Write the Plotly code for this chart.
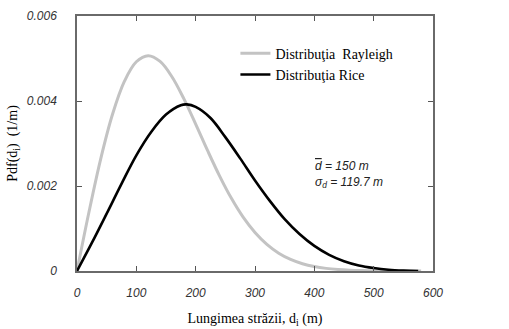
import plotly.graph_objects as go

# Distances (m) and pdf values
x_rayleigh = [0, 20, 40, 60, 80, 100, 120, 140, 160, 180, 200, 220, 240, 260, 280,
              300, 320, 340, 360, 380, 400, 420, 440, 460, 480, 500, 520, 540, 560, 580]
y_rayleigh = [0, 0.001377, 0.002640, 0.003693, 0.004466, 0.004923, 0.005067, 0.004931,
              0.004571, 0.004055, 0.003456, 0.002836, 0.002245, 0.001715, 0.001267,
              0.000906, 0.000627, 0.000420, 0.000273, 0.000172, 0.000105, 0.000062,
              0.000036, 0.000020, 0.000011, 0.000006, 0.000003, 0.000001, 0.0000005, 0]

x_rice = [0, 25, 50, 75, 100, 125, 150, 175, 185, 200, 225, 250, 275, 300, 325, 350,
          375, 400, 425, 450, 475, 500, 525, 550, 575]
y_rice = [0, 0.00066, 0.00135, 0.00205, 0.00272, 0.00327, 0.00368, 0.00390, 0.00392,
          0.00386, 0.00360, 0.00315, 0.00265, 0.00213, 0.00165, 0.00122, 0.00087,
          0.00059, 0.00038, 0.00023, 0.00013, 0.00007, 0.00003, 0.00001, 0]

x_ticks = [0, 100, 200, 300, 400, 500, 600]
y_ticks = [0, 0.002, 0.004, 0.006]
y_tick_labels = ["0", "0.002", "0.004", "0.006"]

names = ["Distribuţia  Rayleigh", "Distribuţia Rice"]

fig = go.Figure()
fig.add_trace(go.Scatter(x=x_rayleigh, y=y_rayleigh, mode="lines", name=names[0],
                         line=dict(color="#c3c3c3", width=3, shape="spline")))
fig.add_trace(go.Scatter(x=x_rice, y=y_rice, mode="lines", name=names[1],
                         line=dict(color="#000000", width=2.6, shape="spline")))

serif = "Liberation Serif, Times New Roman, serif"
tick_font = dict(family="Liberation Sans, Arial, sans-serif", size=12, color="#333333", style="italic")
axis_common = dict(showgrid=False, zeroline=False, showline=True, linecolor="#6a6a6a",
                   linewidth=1.5, mirror="ticks", ticks="inside", ticklen=5,
                   tickcolor="#555555", tickwidth=1.2, tickfont=tick_font, automargin=False)

fig.update_layout(
    width=509, height=329,
    margin=dict(l=77, r=76, t=16, b=58),
    paper_bgcolor="white", plot_bgcolor="white",
    showlegend=True,
    legend=dict(x=0.445, y=0.915, xanchor="left", yanchor="top",
                bgcolor="rgba(0,0,0,0)", itemwidth=30, tracegroupgap=0,
                font=dict(family=serif, size=14, color="#000000")),
    xaxis=dict(range=[0, 600], tickvals=x_ticks, ticktext=[str(v) for v in x_ticks],
               ticklabelstandoff=10,
               title=dict(text="Lungimea străzii, d<sub>i</sub> (m)", standoff=14,
                          font=dict(family=serif, size=14, color="#000000")),
               **axis_common),
    yaxis=dict(range=[0, 0.006], tickvals=y_ticks, ticktext=y_tick_labels,
               ticklabelstandoff=16,
               title=dict(text="Pdf(d<sub>i</sub>)  (1/m)", standoff=6,
                          font=dict(family=serif, size=14, color="#000000")),
               **axis_common),
)

fig.add_annotation(xref="paper", yref="paper", x=0.662, y=0.38, xanchor="left", yanchor="middle",
                   showarrow=False, align="left",
                   text="<span style=\"text-decoration:overline\">d</span> = 150 m<br>σ<sub>d</sub> = 119.7 m",
                   font=dict(family="Liberation Sans, Arial, sans-serif", size=12, color="#222222", style="italic"))

fig.write_html("out.html")
